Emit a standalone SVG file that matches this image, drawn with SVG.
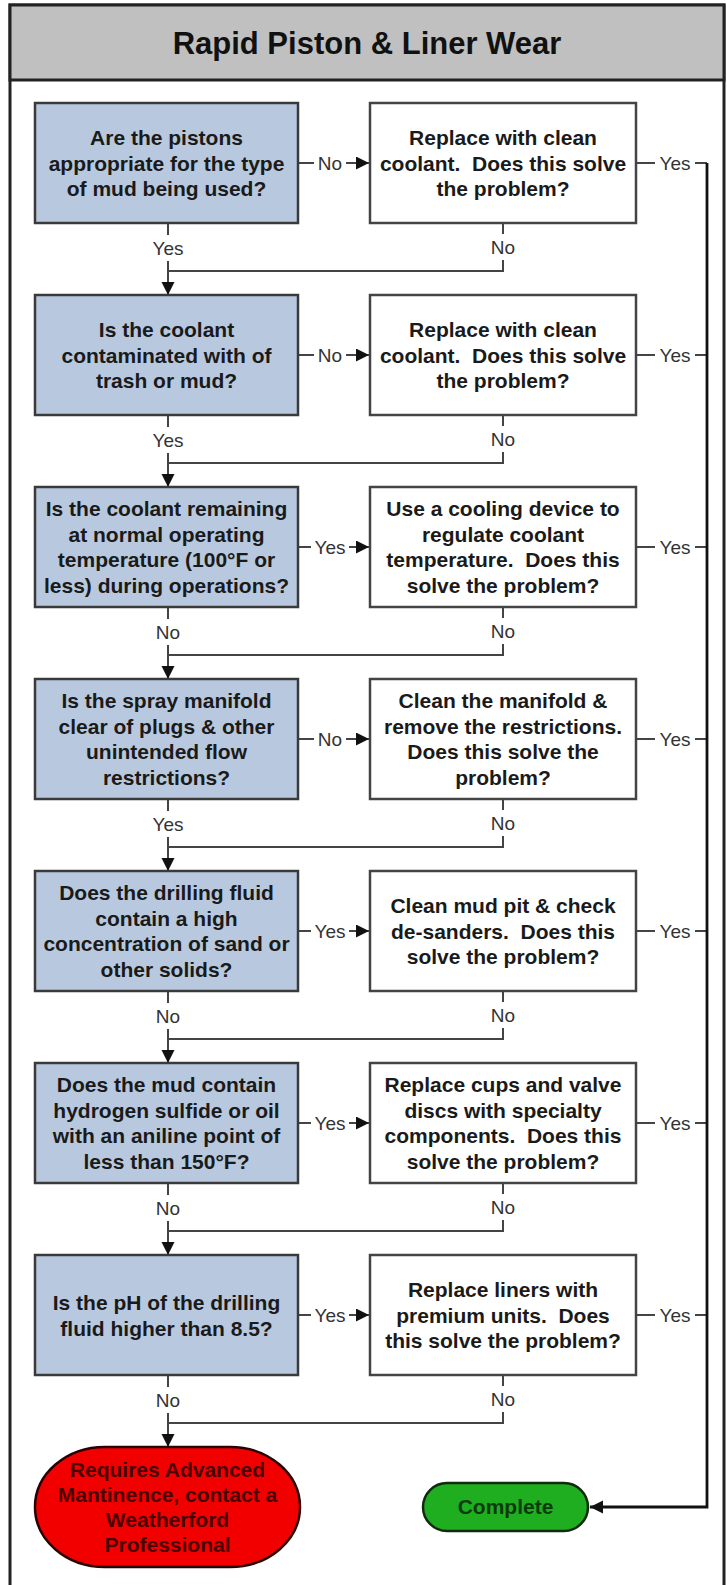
<svg xmlns="http://www.w3.org/2000/svg" width="727" height="1585" viewBox="0 0 727 1585">
<defs>
<style>
.q{fill:#b8c9df;stroke:#3a3a3a;stroke-width:2.5}
.a{fill:#ffffff;stroke:#444;stroke-width:2.5}
.t{font-family:"Liberation Sans",Arial,sans-serif;font-weight:bold;font-size:21px;fill:#1a1a1a;text-anchor:middle;white-space:pre}
.lb{font-family:"Liberation Sans",Arial,sans-serif;font-size:19px;fill:#333;text-anchor:middle}
.c{fill:none;stroke:#444;stroke-width:2}
.k{fill:none;stroke:#111;stroke-width:2.8}
</style>
<marker id="ar" markerUnits="userSpaceOnUse" markerWidth="14" markerHeight="14" refX="13" refY="6.5" orient="auto">
<path d="M0,0 L13,6.5 L0,13 z" fill="#111"/>
</marker>
</defs>
<rect width="727" height="1585" fill="#fff"/>
<g id="frame">
<rect x="10" y="5" width="714" height="1600" fill="#fff" stroke="#222" stroke-width="3"/>
<rect x="10" y="5" width="714" height="75" fill="#c0c0c0" stroke="#222" stroke-width="3"/>
<text x="367" y="54" font-family="Liberation Sans,Arial,sans-serif" font-weight="bold" font-size="31" fill="#111" text-anchor="middle">Rapid Piston &amp; Liner Wear</text>
</g>

<g id="connectors">
<!-- row 1 -->
<path class="c" d="M298,163 H314"/><path class="c" d="M346,163 H369" marker-end="url(#ar)"/>
<path class="c" d="M636,163 H655 M695,163 H707"/>
<path class="c" d="M168,223 V235"/><path class="c" d="M168,261 V295" marker-end="url(#ar)"/>
<path class="c" d="M503,223 V234 M503,260 V271 H168"/>
<!-- row 2 -->
<path class="c" d="M298,355 H314"/><path class="c" d="M346,355 H369" marker-end="url(#ar)"/>
<path class="c" d="M636,355 H655 M695,355 H707"/>
<path class="c" d="M168,415 V427"/><path class="c" d="M168,453 V487" marker-end="url(#ar)"/>
<path class="c" d="M503,415 V426 M503,452 V463 H168"/>
<!-- row 3 -->
<path class="c" d="M298,547 H311"/><path class="c" d="M349,547 H369" marker-end="url(#ar)"/>
<path class="c" d="M636,547 H655 M695,547 H707"/>
<path class="c" d="M168,607 V619"/><path class="c" d="M168,645 V679" marker-end="url(#ar)"/>
<path class="c" d="M503,607 V618 M503,644 V655 H168"/>
<!-- row 4 -->
<path class="c" d="M298,739 H314"/><path class="c" d="M346,739 H369" marker-end="url(#ar)"/>
<path class="c" d="M636,739 H655 M695,739 H707"/>
<path class="c" d="M168,799 V811"/><path class="c" d="M168,837 V871" marker-end="url(#ar)"/>
<path class="c" d="M503,799 V810 M503,836 V847 H168"/>
<!-- row 5 -->
<path class="c" d="M298,931 H311"/><path class="c" d="M349,931 H369" marker-end="url(#ar)"/>
<path class="c" d="M636,931 H655 M695,931 H707"/>
<path class="c" d="M168,991 V1003"/><path class="c" d="M168,1029 V1063" marker-end="url(#ar)"/>
<path class="c" d="M503,991 V1002 M503,1028 V1039 H168"/>
<!-- row 6 -->
<path class="c" d="M298,1123 H311"/><path class="c" d="M349,1123 H369" marker-end="url(#ar)"/>
<path class="c" d="M636,1123 H655 M695,1123 H707"/>
<path class="c" d="M168,1183 V1195"/><path class="c" d="M168,1221 V1255" marker-end="url(#ar)"/>
<path class="c" d="M503,1183 V1194 M503,1220 V1231 H168"/>
<!-- row 7 -->
<path class="c" d="M298,1315 H311"/><path class="c" d="M349,1315 H369" marker-end="url(#ar)"/>
<path class="c" d="M636,1315 H655 M695,1315 H707"/>
<path class="c" d="M168,1375 V1387"/><path class="c" d="M168,1413 V1447" marker-end="url(#ar)"/>
<path class="c" d="M503,1375 V1386 M503,1412 V1423 H168"/>
<!-- yes bus -->
<path class="k" d="M707,163 V1507 H590" marker-end="url(#ar)"/>
<!-- labels -->
<g class="lb">
<text x="330" y="170">No</text><text x="675" y="170">Yes</text><text x="168" y="255">Yes</text><text x="503" y="254">No</text>
<text x="330" y="362">No</text><text x="675" y="362">Yes</text><text x="168" y="447">Yes</text><text x="503" y="446">No</text>
<text x="330" y="554">Yes</text><text x="675" y="554">Yes</text><text x="168" y="639">No</text><text x="503" y="638">No</text>
<text x="330" y="746">No</text><text x="675" y="746">Yes</text><text x="168" y="831">Yes</text><text x="503" y="830">No</text>
<text x="330" y="938">Yes</text><text x="675" y="938">Yes</text><text x="168" y="1023">No</text><text x="503" y="1022">No</text>
<text x="330" y="1130">Yes</text><text x="675" y="1130">Yes</text><text x="168" y="1215">No</text><text x="503" y="1214">No</text>
<text x="330" y="1322">Yes</text><text x="675" y="1322">Yes</text><text x="168" y="1407">No</text><text x="503" y="1406">No</text>
</g>
</g>

<g id="q1"><rect class="q" x="35" y="103" width="263" height="120"/>
<text class="t" y="145"><tspan x="166.5">Are the pistons</tspan><tspan x="166.5" dy="25.5">appropriate for the type</tspan><tspan x="166.5" dy="25.5">of mud being used?</tspan></text></g>
<g id="a1"><rect class="a" x="370" y="103" width="266" height="120"/>
<text class="t" y="145"><tspan x="503">Replace with clean</tspan><tspan x="503" dy="25.5">coolant.  Does this solve</tspan><tspan x="503" dy="25.5">the problem?</tspan></text></g>

<g id="q2"><rect class="q" x="35" y="295" width="263" height="120"/>
<text class="t" y="337"><tspan x="166.5">Is the coolant</tspan><tspan x="166.5" dy="25.5">contaminated with of</tspan><tspan x="166.5" dy="25.5">trash or mud?</tspan></text></g>
<g id="a2"><rect class="a" x="370" y="295" width="266" height="120"/>
<text class="t" y="337"><tspan x="503">Replace with clean</tspan><tspan x="503" dy="25.5">coolant.  Does this solve</tspan><tspan x="503" dy="25.5">the problem?</tspan></text></g>

<g id="q3"><rect class="q" x="35" y="487" width="263" height="120"/>
<text class="t" y="516"><tspan x="166.5">Is the coolant remaining</tspan><tspan x="166.5" dy="25.5">at normal operating</tspan><tspan x="166.5" dy="25.5">temperature (100°F or</tspan><tspan x="166.5" dy="25.5">less) during operations?</tspan></text></g>
<g id="a3"><rect class="a" x="370" y="487" width="266" height="120"/>
<text class="t" y="516"><tspan x="503">Use a cooling device to</tspan><tspan x="503" dy="25.5">regulate coolant</tspan><tspan x="503" dy="25.5">temperature.  Does this</tspan><tspan x="503" dy="25.5">solve the problem?</tspan></text></g>

<g id="q4"><rect class="q" x="35" y="679" width="263" height="120"/>
<text class="t" y="708"><tspan x="166.5">Is the spray manifold</tspan><tspan x="166.5" dy="25.5">clear of plugs &amp; other</tspan><tspan x="166.5" dy="25.5">unintended flow</tspan><tspan x="166.5" dy="25.5">restrictions?</tspan></text></g>
<g id="a4"><rect class="a" x="370" y="679" width="266" height="120"/>
<text class="t" y="708"><tspan x="503">Clean the manifold &amp;</tspan><tspan x="503" dy="25.5">remove the restrictions.</tspan><tspan x="503" dy="25.5">Does this solve the</tspan><tspan x="503" dy="25.5">problem?</tspan></text></g>

<g id="q5"><rect class="q" x="35" y="871" width="263" height="120"/>
<text class="t" y="900"><tspan x="166.5">Does the drilling fluid</tspan><tspan x="166.5" dy="25.5">contain a high</tspan><tspan x="166.5" dy="25.5">concentration of sand or</tspan><tspan x="166.5" dy="25.5">other solids?</tspan></text></g>
<g id="a5"><rect class="a" x="370" y="871" width="266" height="120"/>
<text class="t" y="913"><tspan x="503">Clean mud pit &amp; check</tspan><tspan x="503" dy="25.5">de-sanders.  Does this</tspan><tspan x="503" dy="25.5">solve the problem?</tspan></text></g>

<g id="q6"><rect class="q" x="35" y="1063" width="263" height="120"/>
<text class="t" y="1092"><tspan x="166.5">Does the mud contain</tspan><tspan x="166.5" dy="25.5">hydrogen sulfide or oil</tspan><tspan x="166.5" dy="25.5">with an aniline point of</tspan><tspan x="166.5" dy="25.5">less than 150°F?</tspan></text></g>
<g id="a6"><rect class="a" x="370" y="1063" width="266" height="120"/>
<text class="t" y="1092"><tspan x="503">Replace cups and valve</tspan><tspan x="503" dy="25.5">discs with specialty</tspan><tspan x="503" dy="25.5">components.  Does this</tspan><tspan x="503" dy="25.5">solve the problem?</tspan></text></g>

<g id="q7"><rect class="q" x="35" y="1255" width="263" height="120"/>
<text class="t" y="1310"><tspan x="166.5">Is the pH of the drilling</tspan><tspan x="166.5" dy="25.5">fluid higher than 8.5?</tspan></text></g>
<g id="a7"><rect class="a" x="370" y="1255" width="266" height="120"/>
<text class="t" y="1297"><tspan x="503">Replace liners with</tspan><tspan x="503" dy="25.5">premium units.  Does</tspan><tspan x="503" dy="25.5">this solve the problem?</tspan></text></g>

<g id="advanced"><rect x="35" y="1447" width="265" height="120" rx="70" ry="60" fill="#f20000" stroke="#2a0000" stroke-width="2.5"/>
<text class="t" y="1477" style="fill:#4a0000"><tspan x="167.5">Requires Advanced</tspan><tspan x="167.5" dy="25">Mantinence, contact a</tspan><tspan x="167.5" dy="25">Weatherford</tspan><tspan x="167.5" dy="25">Professional</tspan></text></g>

<g id="complete"><rect x="423" y="1483" width="165" height="48" rx="24" ry="24" fill="#1fae1f" stroke="#0f2a0f" stroke-width="2.5"/>
<text class="t" x="505.5" y="1514" style="fill:#0b3a0b">Complete</text></g>
</svg>
